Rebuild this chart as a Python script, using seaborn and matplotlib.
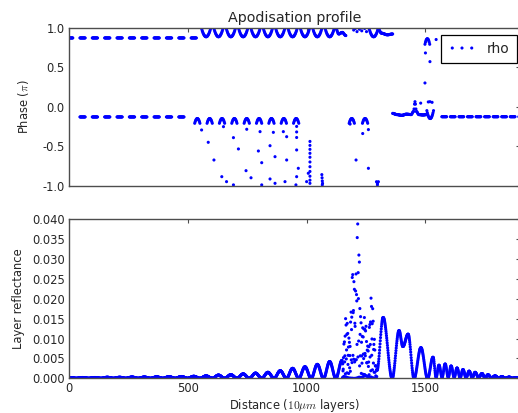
import numpy as np
import pandas as pd
import matplotlib
matplotlib.use("Agg")
import matplotlib.pyplot as plt
import seaborn as sns

# ---------------- layer reflectance |rho|^2 ----------------
# regular side-lobes of the apodised section: crest layer and crest reflectance
lobe_centres = [5, 57, 109, 161, 213, 265, 317, 369, 421, 473, 525, 577,
                629, 681, 733, 785, 837, 889, 941, 993, 1045, 1097, 1149]
lobe_peaks = [0.0002, 0.0002, 0.0002, 0.00025, 0.00025, 0.0003, 0.0003,
              0.00035, 0.0004, 0.00045, 0.0005, 0.0006, 0.0008, 0.0009,
              0.0011, 0.0013, 0.0015, 0.0019, 0.0025, 0.0029, 0.0035,
              0.0042, 0.0045]
lobe_half = 26

# envelope of the strongly modulated central burst
burst_x = [1150, 1166, 1180, 1195, 1204, 1215, 1232, 1245, 1258, 1272, 1296]
burst_y = [0.0040, 0.0155, 0.010, 0.028, 0.022, 0.0398, 0.012, 0.0155,
           0.008, 0.0205, 0.002]
burst_fringe = 0.43   # fringe frequency (cycles of pi per layer)

# trailing lobes: alternating troughs and crests
tail_x = [1296, 1322, 1360, 1389, 1405, 1427, 1452, 1481, 1509, 1532,
          1545, 1557, 1570, 1583, 1596, 1608, 1621, 1633, 1646, 1658,
          1671, 1684, 1697, 1709, 1724, 1738, 1751, 1763, 1778, 1793,
          1808, 1822, 1837, 1852, 1867, 1881, 1899]
tail_y = [0.002, 0.0153, 0.0, 0.012, 0.008, 0.0111, 0.0, 0.0077, 0.0, 0.0053,
          0.0003, 0.0033, 0.0003, 0.0036, 0.0003, 0.0031, 0.0003, 0.0026,
          0.0002, 0.0022, 0.0002, 0.0018, 0.0002, 0.0015, 0.0002, 0.0012,
          0.0001, 0.0009, 0.0001, 0.0006, 0.0001, 0.0004, 0.0, 0.0003, 0.0,
          0.0002, 0.0]

# ---------------- phase of rho (units of pi) ----------------
upper_level, lower_level = 0.87, -0.13
upper_dash_centres = [5, 57, 109, 161, 213, 265, 317, 369, 421, 473, 525]
lower_dash_centres = [57, 109, 161, 213, 265, 317, 369, 421, 473]
upper_cup_centres = [577, 629, 681, 733, 785, 837, 889, 941, 993, 1045, 1097, 1282]
lower_cap_centres = [540, 592, 644, 696, 748, 800, 852, 904, 956, 1190, 1246]
right_dash_centres = [1579, 1615, 1651, 1687, 1723, 1759, 1795, 1831, 1867, 1903]

# slowly varying stretches of the phase
upper_tail_x = [1123, 1135, 1150, 1165]
upper_tail_y = [0.99, 0.92, 0.94, 0.90]
upper_end_x = [1300, 1315, 1340, 1362]
upper_end_y = [0.99, 0.93, 0.91, 0.92]
lower_wave_x = [1362, 1380, 1400, 1420, 1440, 1450, 1456, 1462, 1472, 1490, 1505]
lower_wave_y = [-0.085, -0.10, -0.11, -0.095, -0.10, -0.06, 0.063, -0.06,
                -0.10, -0.105, -0.10]

# isolated phase samples
scatter_x = [558, 586, 610, 643, 663, 692, 650, 692, 713, 745, 766, 811,
             748, 797, 811, 846, 867, 804, 846, 867, 909, 860, 916, 916,
             958, 955, 902, 958, 965, 1007, 1000, 958, 958, 958,
             1014, 1014, 1014, 1014, 1014, 1014, 1014, 1014, 1014, 1014, 1014,
             1064, 1065, 1066, 1067, 1066,
             1183, 1236, 1260, 1208, 1260, 1294, 1298, 1302, 1298,
             1198, 1205, 1212, 1222, 1232, 1244, 1252,
             1480, 1512, 1528, 1500, 1519, 1498, 1519, 1545]
scatter_y = [-0.295, -0.451, -0.675, -0.886, -0.949, -0.99, -0.253, -0.392,
             -0.535, -0.81, -0.90, -0.99, -0.286, -0.561, -0.709, -0.915,
             -0.97, -0.316, -0.494, -0.633, -0.949, -0.325, -0.38, -0.675,
             -0.886, -0.99, -0.316, -0.548, -0.78, -0.843, -0.949, -0.25,
             -0.32, -0.39,
             -0.44, -0.49, -0.54, -0.59, -0.64, -0.70, -0.76, -0.82, -0.88,
             -0.93, -0.97,
             -0.86, -0.90, -0.94, -0.97, -0.99,
             -0.22, -0.34, -0.29, -0.675, -0.78, -0.95, -0.97, -0.95, -0.99,
             0.97, 0.99, 0.95, 0.98, 0.96, 0.99, 0.95,
             0.045, 0.06, 0.055, 0.68, 0.57, 0.30, 0.063, 0.85]

x_ticks = [0, 500, 1000, 1500]
phase_ticks = [-1.0, -0.5, 0.0, 0.5, 1.0]
refl_ticks = [0.000, 0.005, 0.010, 0.015, 0.020, 0.025, 0.030, 0.035, 0.040]


def eased(kx, ky, xs):
    """Half-cosine transition between consecutive knots."""
    kx = np.asarray(kx, float)
    ky = np.asarray(ky, float)
    i = np.clip(np.searchsorted(kx, xs, side="right") - 1, 0, len(kx) - 2)
    t = np.clip((xs - kx[i]) / (kx[i + 1] - kx[i]), 0.0, 1.0)
    w = 0.5 - 0.5 * np.cos(np.pi * t)
    return ky[i] + (ky[i + 1] - ky[i]) * w


def arcs(centres, half, mid, rim, step=2.0):
    """Parabolic arcs: `mid` at each centre, `rim` at +/- half."""
    xs, ys = [], []
    for c in centres:
        u = np.arange(-half, half + 0.01, step)
        xs.append(c + u)
        ys.append(mid + (rim - mid) * (u / half) ** 2)
    return np.concatenate(xs), np.concatenate(ys)


# reflectance samples, one per layer
main_kx, main_ky = [lobe_centres[0] - lobe_half], [0.0]
for c, p in zip(lobe_centres, lobe_peaks):
    main_kx += [c, c + lobe_half]
    main_ky += [p, 0.0]
x_main = np.arange(0, 1150, 1.0)
r_main = eased(main_kx, main_ky, x_main)
x_burst = np.arange(1150, 1296, 1.0)
r_burst = eased(burst_x, burst_y, x_burst) * np.cos(np.pi * burst_fringe * (x_burst - 1150)) ** 2
x_tail = np.arange(1296, 1900, 1.0)
r_tail = eased(tail_x, tail_y, x_tail)
refl = pd.DataFrame({
    "layer": np.concatenate([x_main, x_burst, x_tail]),
    "reflectance": np.concatenate([r_main, r_burst, r_tail]),
})

# phase samples
parts = [
    arcs(upper_dash_centres, 11, upper_level, upper_level),
    arcs(lower_dash_centres, 11, lower_level, lower_level),
    arcs(upper_cup_centres, 20, 0.885, 1.0),
    arcs(lower_cap_centres, 11, -0.15, -0.21),
    arcs(right_dash_centres, 10, -0.127, -0.127),
    arcs([1520], 14, -0.15, -0.05),
    arcs([1508], 10, 0.86, 0.79),
]
for kx, ky in [(upper_tail_x, upper_tail_y), (upper_end_x, upper_end_y),
               (lower_wave_x, lower_wave_y)]:
    xs = np.arange(kx[0], kx[-1] + 0.01, 2.0)
    parts.append((xs, eased(kx, ky, xs)))
parts.append((np.asarray(scatter_x, float), np.asarray(scatter_y, float)))
phase = pd.DataFrame({
    "layer": np.concatenate([p[0] for p in parts]),
    "phase": np.concatenate([p[1] for p in parts]),
})
phase = phase[(phase.layer >= 0) & (phase.layer <= 1900)]

# ---------------- figure ----------------
sns.set_style("white")
plt.rcParams.update({
    "font.family": ["DejaVu Sans"],
    "mathtext.fontset": "cm",
    "axes.edgecolor": "0.3",
    "axes.linewidth": 1.0,
    "xtick.color": "0.3",
    "ytick.color": "0.3",
    "xtick.labelcolor": "0.15",
    "ytick.labelcolor": "0.15",
    "text.color": "0.15",
    "axes.labelcolor": "0.15",
})

fig = plt.figure(figsize=(5.18, 4.13), dpi=100)
ax1 = fig.add_axes([0.1332, 0.5504, 0.8716, 0.3826])
ax2 = fig.add_axes([0.1332, 0.0840, 0.8716, 0.3850])

dot = dict(color="blue", marker="o", s=5, linewidth=0, edgecolor="none")
sns.scatterplot(data=phase, x="layer", y="phase", ax=ax1, label="rho", **dot)
sns.scatterplot(data=refl, x="layer", y="reflectance", ax=ax2, **dot)

for ax in (ax1, ax2):
    ax.set_xlim(0, 1900)
    ax.set_xticks(x_ticks)
    ax.tick_params(direction="in", length=3, width=0.8, top=True, right=True,
                   labelsize=8.3, pad=3)

ax1.set_ylim(-1.0, 1.0)
ax1.set_yticks(phase_ticks)
ax1.set_yticklabels([f"{v:.1f}" for v in phase_ticks])
ax1.tick_params(labelbottom=False)
ax1.set_xlabel("")
ax1.set_ylabel(r"Phase ($\pi$)", fontsize=8.3)
ax1.yaxis.set_label_coords(-0.084, 0.5)
ax1.set_title("Apodisation profile", fontsize=10.3, pad=4)
leg = ax1.legend(loc="upper right", bbox_to_anchor=(0.9916, 0.954),
                 borderaxespad=0, fontsize=10, scatterpoints=3,
                 scatteryoffsets=[0.5], handlelength=2.0, handletextpad=0.8,
                 borderpad=0.5, fancybox=False, framealpha=1.0,
                 edgecolor="black")
leg.get_frame().set_linewidth(0.9)

ax2.set_ylim(0.0, 0.040)
ax2.set_yticks(refl_ticks)
ax2.set_yticklabels([f"{v:.3f}" for v in refl_ticks])
ax2.set_xticklabels([str(v) for v in x_ticks])
ax2.set_ylabel("Layer reflectance", fontsize=8.3)
ax2.yaxis.set_label_coords(-0.0975, 0.5)
ax2.set_xlabel(r"Distance ($10\mu m$ layers)", fontsize=8.3)
ax2.xaxis.set_label_coords(0.5, -0.115)

fig.savefig("out.png", dpi=100)
